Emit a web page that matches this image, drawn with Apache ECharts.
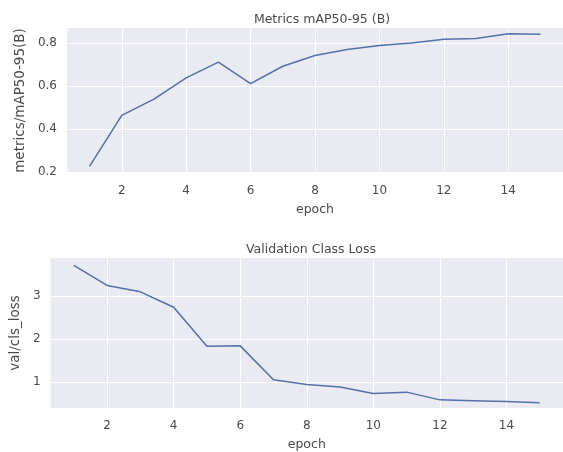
<!DOCTYPE html>
<html>
<head>
<meta charset="utf-8">
<script src="https://cdn.jsdelivr.net/npm/echarts@6/dist/echarts.min.js"></script>
<style>html,body{margin:0;padding:0;background:#fff;}#c{width:563px;height:452px;}</style>
</head>
<body>
<div id="c"></div>
<script>
const epochs = [1,2,3,4,5,6,7,8,9,10,11,12,13,14,15];
const mapValues = [0.226,0.463,0.539,0.638,0.711,0.611,0.692,0.742,0.770,0.788,0.800,0.818,0.821,0.843,0.841];
const clsLoss = [3.72,3.25,3.10,2.74,1.83,1.84,1.05,0.94,0.88,0.73,0.76,0.58,0.56,0.54,0.51];
const xTicks = [2,4,6,8,10,12,14];
const yTicksTop = [0.2,0.4,0.6,0.8];
const yTicksBottom = [1,2,3];

const font = 'DejaVu Sans';
const txt = '#4a4a4a';
const lineColor = '#5470a8';

function xAxisCfg(idx){
  return {
    type:'value', gridIndex:idx, min:0.3, max:15.7,
    name:'epoch', nameLocation:'middle', nameGap:30,
    nameTextStyle:{color:txt,fontFamily:font,fontSize:12.5},
    axisLine:{show:false}, axisTick:{show:false, customValues:xTicks},
    axisLabel:{customValues:xTicks,color:txt,fontFamily:font,fontSize:12,margin:12},
    splitLine:{show:true,lineStyle:{color:'#ffffff',width:1}}
  };
}
function yAxisCfg(idx,min,max,ticks,name,gap){
  return {
    type:'value', gridIndex:idx, min:min, max:max,
    name:name, nameLocation:'middle', nameGap:gap,
    nameTextStyle:{color:txt,fontFamily:font,fontSize:13.5},
    axisLine:{show:false}, axisTick:{show:false, customValues:ticks},
    axisLabel:{customValues:ticks,color:txt,fontFamily:font,fontSize:12,margin:10,
      formatter:v=>String(Math.round(v*10)/10)},
    splitLine:{show:true,lineStyle:{color:'#ffffff',width:1}}
  };
}

const chart = echarts.init(document.getElementById('c'));
chart.setOption({
  animation:false,
  backgroundColor:'#ffffff',
  title:[
    {text:'Metrics mAP50-95 (B)', left:317, top:8, textAlign:'center',
     textStyle:{color:txt,fontFamily:font,fontSize:12.5,fontWeight:'normal'}},
    {text:'Validation Class Loss', left:306, top:238, textAlign:'center',
     textStyle:{color:txt,fontFamily:font,fontSize:12.5,fontWeight:'normal'}}
  ],
  grid:[
    {left:67, top:28, height:145, right:-4, show:true, backgroundColor:'#EAEAF2', borderWidth:0},
    {left:46, top:258, height:153, right:-4, show:true, backgroundColor:'#EAEAF2', borderWidth:0}
  ],
  xAxis:[xAxisCfg(0), xAxisCfg(1)],
  yAxis:[
    yAxisCfg(0,0.195,0.87,yTicksTop,'metrics/mAP50-95(B)',28),
    yAxisCfg(1,0.39,3.89,yTicksBottom,'val/cls_loss',13)
  ],
  series:[
    {type:'line', xAxisIndex:0, yAxisIndex:0, data:epochs.map((e,i)=>[e,mapValues[i]]),
     showSymbol:false, lineStyle:{color:lineColor,width:1.5}},
    {type:'line', xAxisIndex:1, yAxisIndex:1, data:epochs.map((e,i)=>[e,clsLoss[i]]),
     showSymbol:false, lineStyle:{color:lineColor,width:1.5}}
  ]
});
</script>
</body>
</html>
